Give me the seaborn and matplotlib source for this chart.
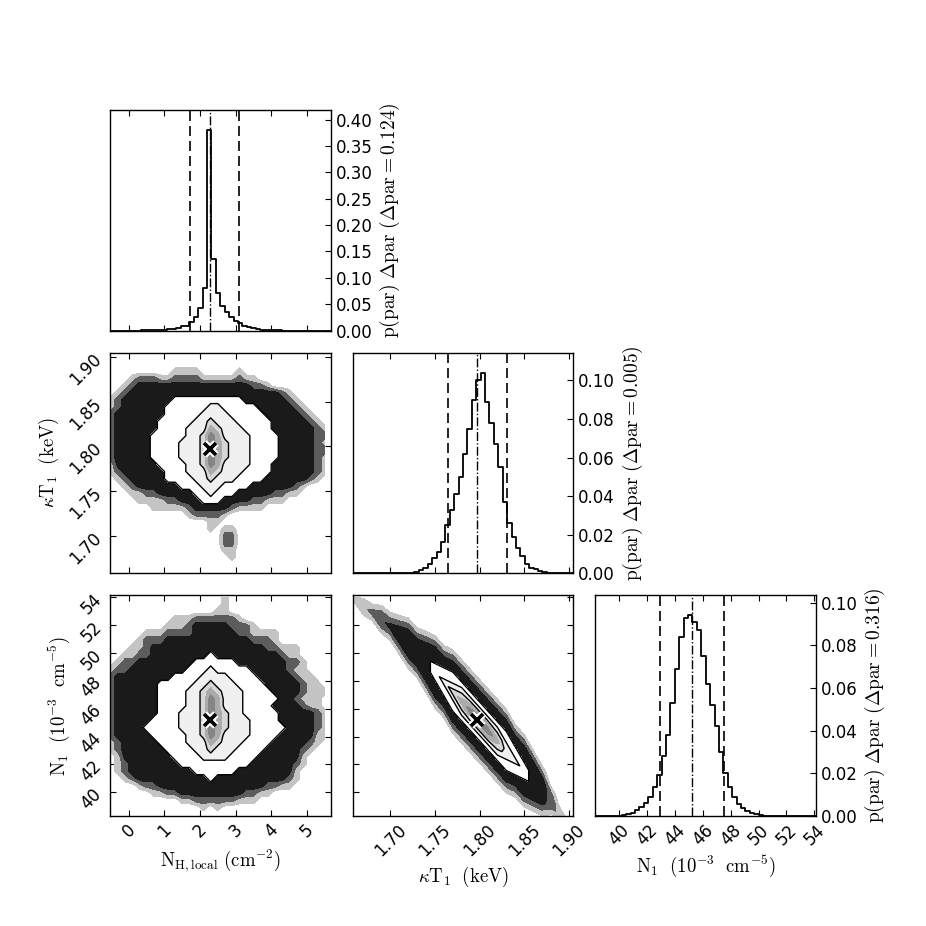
import numpy as np
import pandas as pd
import matplotlib
matplotlib.use("Agg")
import matplotlib.pyplot as plt
import seaborn as sns
from matplotlib.ticker import FormatStrFormatter

# axis ranges (each marginal uses 50 bins across its range)
nh_range = (-0.53, 5.67)
kt_range = (1.658, 1.905)
n1_range = (38.3, 54.12)

# marginal posteriors, p(par) * dpar per bin
nh_hist = [0, 0, 0, 0.0001, 0.0001, 0.0001, 0.0002, 0.0003, 0.0005, 0.0007,
           0.001, 0.0015, 0.002, 0.003, 0.004, 0.0055, 0.008, 0.0095, 0.017, 0.025,
           0.043, 0.080, 0.380, 0.136, 0.071, 0.047, 0.0345, 0.025, 0.019, 0.0138,
           0.0095, 0.0063, 0.0044, 0.0025, 0.0015, 0.001, 0.0007, 0.0005, 0.0003, 0.0002,
           0.0002, 0.0001, 0.0001, 0, 0, 0, 0, 0, 0, 0]
kt_hist = [0, 0, 0, 0, 0, 0, 0, 0, 0, 0,
           0, 0, 0.0001, 0.0003, 0.0007, 0.0015, 0.003, 0.005, 0.008, 0.011,
           0.016, 0.025, 0.033, 0.041, 0.050, 0.062, 0.075, 0.090, 0.100, 0.104,
           0.089, 0.078, 0.067, 0.055, 0.037, 0.026, 0.019, 0.013, 0.009, 0.005,
           0.003, 0.002, 0.001, 0.0005, 0.0002, 0.0001, 0, 0, 0, 0]
n1_hist = [0, 0, 0, 0, 0, 0.0002, 0.0004, 0.0008, 0.0016, 0.0027,
           0.0043, 0.0063, 0.009, 0.0134, 0.019, 0.028, 0.038, 0.053, 0.069, 0.084,
           0.093, 0.094, 0.091, 0.087, 0.075, 0.062, 0.052, 0.042, 0.030, 0.020,
           0.0134, 0.009, 0.0055, 0.0036, 0.0024, 0.0013, 0.0008, 0.0004, 0.0002, 0.0001,
           0, 0, 0, 0, 0, 0, 0, 0, 0, 0]

# best fit and interval limits [NH, kT, N1]
best_fit = [2.28, 1.797, 45.2]
lower_q = [1.72, 1.765, 42.93]
upper_q = [3.10, 1.831, 47.52]

# 2D density maps as levels: 1-3 scattered samples (sparse..dense),
# 4 inside outer contour, 5 inside middle contour, 6-9 inside inner contour
nh_kt_map = [
    "0000000000000000000000000000000",
    "0000000000000000000000000000000",
    "0000000001111000001000000000000",
    "0001222112222111112110000000000",
    "0012333333333333333322100000000",
    "0123333333333333333333332100000",
    "1233333334444444444333333210000",
    "1233333344444455444443333321000",
    "2333333344444555544444333332100",
    "2333333444445565554444433333210",
    "2333333444455576555444433333321",
    "2333334444455687555544443333322",
    "2333334444555687655544443333321",
    "2333334444555697655544443333322",
    "2333334444555687655544443333321",
    "1333333444455687555544433333321",
    "1233333344455576555444433333321",
    "0123333344445565554444333333210",
    "0012333333444555444433333321000",
    "0001122333334454443333322110000",
    "0000111122333444333322111000000",
    "0000001111123333321111000000000",
    "0000000000012222100000000000000",
    "0000000000000011000000000000000",
    "0000000000000010110000000000000",
    "0000000000000000220000000000000",
    "0000000000000000220000000000000",
    "0000000000000000110000000000000",
    "0000000000000000010000000000000",
    "0000000000000000000000000000000",
    "0000000000000000000000000000000",
]
nh_n1_map = [
    "0000000000000000100000000000000",
    "0000000000000000100000000000000",
    "0000000000000001100000000000000",
    "0000000001112222221000000000000",
    "0000000011123333322210000000000",
    "0000011122223333332211110000000",
    "0000122233333333333322210000000",
    "0001123333333333333333221110000",
    "0011223333333343333333332110000",
    "0122333333334444443333333221000",
    "1223333333344454444433333211000",
    "2333333334444555544443333321100",
    "2333333444445565554444333332110",
    "2333333444455676555444433332111",
    "2333333444455687555444443321110",
    "2333333444455687555444433332110",
    "2333333444555687655444443333321",
    "2333334444555697655544443333321",
    "2333344444555687655544444333321",
    "2333334444455687555544443333311",
    "1233333444455576555444433333210",
    "1233333344445565554444333332100",
    "0133333334444555544443333331000",
    "0123333333444444444433333321000",
    "0123333333334444443333333310000",
    "0012333333333343333333333210000",
    "0000122333333333333333221100000",
    "0000001122333333333221100000000",
    "0000000000112222221110000000000",
    "0000000000000101000000000000000",
    "0000000000000000000000000000000",
]
# kT-N1 map: columns follow kT, rows are N1 offsets from the ridge
kt_n1_ridge = [53.8, 53.3, 52.9, 52.4, 51.9, 51.3, 50.7, 50.0, 49.35, 48.64,
               47.93, 47.22, 46.51, 45.80, 45.09, 44.38, 43.67, 42.96, 42.25, 41.54,
               40.83, 40.12, 39.41, 38.70, 38.0]
kt_n1_map = [
    "0000000000000000000000000",
    "0000000000011111110000000",
    "0000000001122222221100000",
    "0000000012233333332210000",
    "0000001123333333333321000",
    "0000012233344444443332000",
    "0001123333445555544333100",
    "0112233334456777654433200",
    "1122333334567898755433210",
    "0112233334456777654433210",
    "0001123333445555544333100",
    "0000012233344444443332000",
    "0000001123333333333321000",
    "0000000012233333332210000",
    "0000000001122222221100000",
    "0000000000011111110000000",
    "0000000000000000000000000",
]

nh_ticks = [0, 1, 2, 3, 4, 5]
kt_ticks = [1.70, 1.75, 1.80, 1.85, 1.90]
n1_ticks = [40, 42, 44, 46, 48, 50, 52, 54]
nh_p_ticks = [0.0, 0.05, 0.10, 0.15, 0.20, 0.25, 0.30, 0.35, 0.40]
kt_p_ticks = [0.0, 0.02, 0.04, 0.06, 0.08, 0.10]
n1_p_ticks = [0.0, 0.02, 0.04, 0.06, 0.08, 0.10]

axis_labels = [r"$\mathrm{N_{H,local}\ (cm^{-2})}$",
               r"$\kappa\mathrm{T_1\ \ (keV)}$",
               r"$\mathrm{N_1\ \ (10^{-3}\ \ cm^{-5})}$"]
hist_labels = [r"$\mathrm{p(par)\ \Delta par\ (\Delta par=0.124)}$",
               r"$\mathrm{p(par)\ \Delta par\ (\Delta par=0.005)}$",
               r"$\mathrm{p(par)\ \Delta par\ (\Delta par=0.316)}$"]
tick_formats = ["%d", "%.2f", "%d"]

fill_levels = [0.5, 1.5, 2.5, 3.5, 4.5, 5.5, 6.5, 7.5, 8.5, 9.5]
fill_colors = ["#c4c4c4", "#5c5c5c", "#1a1a1a", "#ffffff", "#f0f0f0",
               "#d6d6d6", "#ababab", "#858585", "#626262"]

sns.set_style("ticks")
plt.rcParams["font.family"] = ["DejaVu Sans"]
plt.rcParams["mathtext.fontset"] = "cm"
plt.rcParams.update({
    "axes.edgecolor": "k", "axes.linewidth": 1.0,
    "xtick.color": "k", "ytick.color": "k", "text.color": "k",
    "axes.labelcolor": "k",
    "xtick.direction": "in", "ytick.direction": "in",
    "xtick.major.size": 4, "ytick.major.size": 4,
    "xtick.major.width": 0.8, "ytick.major.width": 0.8,
    "xtick.labelsize": 12, "ytick.labelsize": 12,
})


def level_grid(rows):
    return np.array([[int(c) for c in r] for r in rows], dtype=float)


def draw_density(ax, X, Y, Z, best_x, best_y):
    ax.contourf(X, Y, Z, levels=fill_levels, colors=fill_colors)
    ax.contour(X, Y, Z, levels=[3.5, 4.5, 5.5], colors="k", linewidths=1.0)
    ax.plot(best_x, best_y, "x", ms=9, mew=5.5, color="w")
    ax.plot(best_x, best_y, "x", ms=8, mew=2.6, color="k")


fig, axes = plt.subplots(3, 3, figsize=(9.26, 9.26), dpi=100)
fig.subplots_adjust(left=0.1188, right=0.8812, bottom=0.1188, top=0.8812,
                    wspace=0.1, hspace=0.1)
for ax in (axes[0, 1], axes[0, 2], axes[1, 2]):
    ax.set_visible(False)

ranges = [nh_range, kt_range, n1_range]
hists = [nh_hist, kt_hist, n1_hist]
ticks = [nh_ticks, kt_ticks, n1_ticks]
p_ticks = [nh_p_ticks, kt_p_ticks, n1_p_ticks]

# ---- diagonal: 1D marginals ----
for k in range(3):
    ax = axes[k, k]
    edges = np.linspace(ranges[k][0], ranges[k][1], len(hists[k]) + 1)
    df = pd.DataFrame({"par": 0.5 * (edges[:-1] + edges[1:]), "w": hists[k]})
    sns.histplot(data=df, x="par", weights="w", bins=len(hists[k]),
                 binrange=ranges[k], element="step", fill=False, color="k",
                 linewidth=1.3, ax=ax)
    ax.axvline(lower_q[k], color="k", ls=(0, (6, 3)), lw=1.2)
    ax.axvline(best_fit[k], color="k", ls="-.", lw=1.0)
    ax.axvline(upper_q[k], color="k", ls=(0, (6, 3)), lw=1.2)
    ax.set_xlim(ranges[k])
    ax.set_ylim(0, 1.1 * max(hists[k]))
    ax.set_xticks(ticks[k])
    ax.set_yticks(p_ticks[k])
    ax.yaxis.set_major_formatter(FormatStrFormatter("%.2f"))
    ax.xaxis.set_major_formatter(FormatStrFormatter(tick_formats[k]))
    ax.yaxis.tick_right()
    ax.yaxis.set_label_position("right")
    ax.set_ylabel(hist_labels[k], fontsize=14)
    ax.tick_params(axis="x", top=True, bottom=True)
    ax.set_xlabel("")

# ---- off-diagonal: 2D posteriors ----
nh_nodes = np.linspace(-0.5, 5.5, 31)
kt_nodes = np.linspace(1.90, 1.66, 31)
n1_nodes = np.linspace(54.0, 38.4, 31)
draw_density(axes[1, 0], nh_nodes, kt_nodes, level_grid(nh_kt_map),
             best_fit[0], best_fit[1])
draw_density(axes[2, 0], nh_nodes, n1_nodes, level_grid(nh_n1_map),
             best_fit[0], best_fit[2])

kt_cols = np.linspace(1.66, 1.90, len(kt_n1_ridge))
n1_offsets = np.linspace(3.2, -3.2, len(kt_n1_map))
KX, KO = np.meshgrid(kt_cols, n1_offsets)
KY = np.array(kt_n1_ridge)[None, :] + KO
draw_density(axes[2, 1], KX, KY, level_grid(kt_n1_map), best_fit[1], best_fit[2])

for (r, c) in [(1, 0), (2, 0), (2, 1)]:
    ax = axes[r, c]
    ax.set_xlim(ranges[c])
    ax.set_ylim(ranges[r])
    ax.set_xticks(ticks[c])
    ax.set_yticks(ticks[r])
    ax.xaxis.set_major_formatter(FormatStrFormatter(tick_formats[c]))
    ax.yaxis.set_major_formatter(FormatStrFormatter(tick_formats[r]))
    ax.tick_params(top=True, right=True, bottom=True, left=True)
    if c > 0:
        ax.tick_params(axis="y", labelleft=False)
    else:
        ax.tick_params(axis="y", labelrotation=45)
        ax.set_ylabel(axis_labels[r], fontsize=13.5)

# shared x axes: labels only on bottom row
for c in range(3):
    for r in range(3):
        ax = axes[r, c]
        if not ax.get_visible():
            continue
        if r < 2:
            ax.tick_params(axis="x", labelbottom=False)
        else:
            ax.tick_params(axis="x", labelrotation=45)
            ax.set_xlabel(axis_labels[c], fontsize=13.5)

for ax in axes.flat:
    for s in ax.spines.values():
        s.set_visible(True)
        s.set_color("k")

plt.savefig("out.png", dpi=100)
plt.close()
